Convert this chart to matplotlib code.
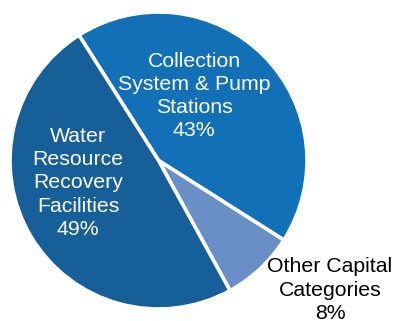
import matplotlib
matplotlib.use("Agg")
import matplotlib.pyplot as plt

categories = ["Collection\nSystem & Pump\nStations", "Other Capital\nCategories", "Water\nResource\nRecovery\nFacilities"]
shares = [43, 8, 49]
colors = ["#1170B6", "#6A8FC6", "#175F98"]
label_colors = ["white", "black", "white"]
label_xy = [(194, 225), (330, 31), (78, 138)]

W, H = 398, 321
fig = plt.figure(figsize=(W / 100, H / 100), dpi=100)
ax = fig.add_axes([0, 0, 1, 1])

ax.pie(shares, colors=colors, startangle=122.4, counterclock=False,
       center=(158.5, 160.5), radius=148.5,
       wedgeprops=dict(edgecolor="white", linewidth=2.6))

ax.set_xlim(0, W)
ax.set_ylim(0, H)
ax.set_aspect("auto")
ax.axis("off")

for name, val, (x, y), c in zip(categories, shares, label_xy, label_colors):
    ax.text(x, y, f"{name}\n{val}%", ha="center", va="center", color=c,
            fontsize=15.3, family="Liberation Sans", linespacing=1.27)

fig.savefig("out.png", dpi=100)
